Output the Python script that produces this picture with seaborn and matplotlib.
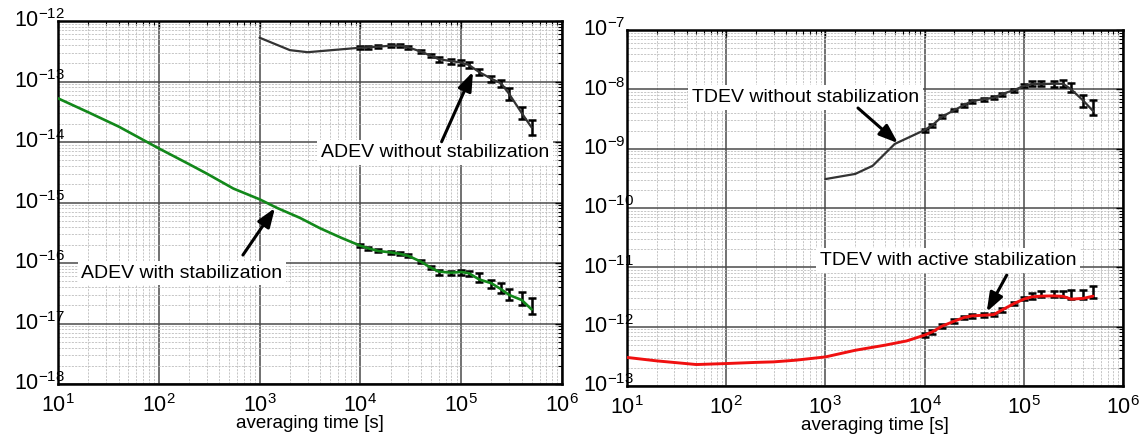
import numpy as np
import matplotlib
matplotlib.use("Agg")
import matplotlib.pyplot as plt
import seaborn as sns
from matplotlib.ticker import FixedLocator, LogLocator, NullFormatter

# ---------------------------------------------------------------- data
# averaging times at which error bars were evaluated
tau_pts = [1e4, 1.2e4, 1.5e4, 2e4, 2.5e4, 3e4, 4e4, 5e4, 6e4, 8e4,
           1e5, 1.2e5, 1.5e5, 2e5, 2.5e5, 3e5, 4e5, 5e5]

# ADEV without stabilization
adev_free_tau_head = [1e3, 2e3, 3e3]
adev_free_head = [5.3e-13, 3.3e-13, 3.05e-13]
adev_free_line = [3.62e-13, 3.67e-13, 3.76e-13, 3.91e-13, 3.91e-13, 3.67e-13,
                  3.11e-13, 2.67e-13, 2.34e-13, 2.17e-13, 2.06e-13, 1.87e-13,
                  1.44e-13, 1.11e-13, 9.27e-14, 6.2e-14, 2.99e-14, 1.74e-14]
adev_free_pts = adev_free_line
adev_free_err = [0.025] * 8 + [0.04, 0.04, 0.04, 0.045, 0.05, 0.05, 0.05,
                               0.095, 0.095, 0.125]          # decades

# ADEV with stabilization
adev_stab_tau_head = [10, 20, 40, 100, 200, 300, 550, 1000, 1500, 2500, 4000, 6500]
adev_stab_head = [5.27e-14, 3.1e-14, 1.8e-14, 7.85e-15, 4.3e-15, 3.0e-15,
                  1.7e-15, 1.13e-15, 8.1e-16, 5.6e-16, 3.74e-16, 2.6e-16]
adev_stab_line = [1.93e-16, 1.75e-16, 1.58e-16, 1.50e-16, 1.41e-16, 1.31e-16,
                  1.05e-16, 8.37e-17, 7.2e-17, 6.92e-17, 7.1e-17, 6.76e-17,
                  5.38e-17, 4.62e-17, 3.67e-17, 2.96e-17, 2.44e-17, 1.71e-17]
adev_stab_pts = [1.93e-16, 1.75e-16, 1.58e-16, 1.50e-16, 1.41e-16, 1.31e-16,
                 1.05e-16, 8.37e-17, 6.97e-17, 6.83e-17, 6.97e-17, 6.76e-17,
                 5.76e-17, 4.46e-17, 3.86e-17, 2.99e-17, 2.57e-17, 1.95e-17]
adev_stab_err = [0.025] * 8 + [0.04, 0.04, 0.04, 0.04, 0.07, 0.07, 0.077,
                               0.088, 0.105, 0.13]

# TDEV without stabilization
tdev_free_tau_head = [1e3, 2e3, 3e3, 5e3]
tdev_free_head = [3.07e-10, 3.75e-10, 5.15e-10, 1.2e-9]
tdev_free_line = [2.06e-9, 2.5e-9, 3.45e-9, 4.48e-9, 5.43e-9, 6.35e-9,
                  6.86e-9, 7.22e-9, 8.3e-9, 9.72e-9, 1.14e-8, 1.23e-8,
                  1.23e-8, 1.24e-8, 1.24e-8, 1.0e-8, 6.4e-9, 4.3e-9]
tdev_free_pts = [2.06e-9, 2.5e-9, 3.45e-9, 4.48e-9, 5.43e-9, 6.35e-9,
                 6.86e-9, 7.22e-9, 8.3e-9, 9.72e-9, 1.14e-8, 1.23e-8,
                 1.23e-8, 1.24e-8, 1.24e-8, 1.07e-8, 6.4e-9, 4.93e-9]
tdev_free_err = [0.025] * 11 + [0.042, 0.042, 0.047, 0.062, 0.07, 0.098, 0.126]

# TDEV with active stabilization
tdev_stab_tau_head = [10, 20, 30, 50, 100, 200, 300, 500, 1000, 2000, 4000, 6600]
tdev_stab_head = [3.03e-13, 2.65e-13, 2.49e-13, 2.3e-13, 2.39e-13, 2.5e-13,
                  2.55e-13, 2.72e-13, 3.09e-13, 4.0e-13, 4.88e-13, 5.75e-13]
tdev_stab_line = [7.2e-13, 8.18e-13, 1.02e-12, 1.24e-12, 1.43e-12, 1.52e-12,
                  1.56e-12, 1.60e-12, 1.90e-12, 2.46e-12, 2.91e-12, 3.18e-12,
                  3.27e-12, 3.3e-12, 3.24e-12, 2.91e-12, 3.0e-12, 3.27e-12]
tdev_stab_pts = [7.2e-13, 8.18e-13, 1.02e-12, 1.24e-12, 1.43e-12, 1.52e-12,
                 1.56e-12, 1.60e-12, 1.90e-12, 2.46e-12, 3.0e-12, 3.3e-12,
                 3.55e-12, 3.55e-12, 3.55e-12, 3.55e-12, 3.55e-12, 3.9e-12]
tdev_stab_err = [0.03] * 11 + [0.045, 0.05, 0.05, 0.055, 0.076, 0.076, 0.1]

# annotation labels: (text x, text y), arrow start, arrow tip
left_labels = [
    ("ADEV with stabilization", (170, 5.75e-17), (684, 1.355e-16), (1422, 8.11e-16)),
    ("ADEV without stabilization", (5.5e4, 5.71e-15), (6.4e4, 1.01e-14), (1.31e5, 1.45e-13)),
]
right_labels = [
    ("TDEV without stabilization", (630, 6.18e-9), (2133, 4.84e-9), (5395, 1.24e-9)),
    ("TDEV with active stabilization", (1.72e4, 1.09e-11), (6.73e4, 7.38e-12), (4.23e4, 1.78e-12)),
]

xlabel_text = "averaging time [s]"

# ---------------------------------------------------------------- style
sns.set_theme(style="white")
plt.rcParams.update({
    "font.family": ["Liberation Sans", "DejaVu Sans"],
    "mathtext.fontset": "custom",
    "mathtext.rm": "Liberation Sans",
    "mathtext.it": "Liberation Sans:italic",
    "mathtext.bf": "Liberation Sans:bold",
    "axes.unicode_minus": False,
})

DARK = "#333333"
GREEN = "#12881a"
RED = "#f01010"


def decades(lo, hi):
    return 10.0 ** np.arange(int(round(np.log10(lo))), int(round(np.log10(hi))) + 1)


def style_axes(ax, xlim, ylim):
    ax.set_xscale("log")
    ax.set_yscale("log")
    ax.set_xlim(*xlim)
    ax.set_ylim(*ylim)
    ax.xaxis.set_major_locator(FixedLocator(decades(*xlim)))
    ax.yaxis.set_major_locator(FixedLocator(decades(*ylim)))
    for axis in (ax.xaxis, ax.yaxis):
        axis.set_minor_locator(LogLocator(base=10, subs=np.arange(2, 10), numticks=200))
        axis.set_minor_formatter(NullFormatter())
    ax.grid(which="minor", color="#bdbdbd", lw=0.6, ls=(0, (2.5, 1.5)))
    ax.grid(which="major", color="#4a4a4a", lw=1.1, ls="-")
    ax.set_axisbelow(True)
    for s in ax.spines.values():
        s.set_color("black")
        s.set_linewidth(1.8)
    ax.tick_params(which="both", direction="in", top=True, right=True,
                   colors="black")
    ax.tick_params(which="major", length=5, width=1)
    ax.tick_params(which="minor", length=3, width=0.8)
    ax.tick_params(axis="both", which="major", labelsize=15.5)
    ax.tick_params(axis="x", which="major", pad=7)
    ax.tick_params(axis="y", which="major", pad=32)
    plt.setp(ax.yaxis.get_majorticklabels(), ha="left", va="center")
    ax.set_xlabel(xlabel_text, fontsize=13.5, labelpad=-1, color="black")


def draw_series(ax, tau_head, head, line, pts, err, color, lw):
    tau_line = list(tau_head) + list(tau_pts)
    val_line = list(head) + list(line)
    pts_arr = np.asarray(pts)
    err_arr = np.asarray(err)
    lower = pts_arr * (1 - 10.0 ** (-err_arr))
    upper = pts_arr * (10.0 ** err_arr - 1)
    ax.errorbar(tau_pts, pts_arr, yerr=[lower, upper], fmt="none",
                ecolor="black", elinewidth=1.8, capsize=2.6, capthick=1.8,
                zorder=2.5)
    sns.lineplot(x=tau_line, y=val_line, ax=ax, color=color, lw=lw,
                 estimator=None, sort=False, zorder=3)


def draw_labels(ax, labels):
    for text, pos, start, tip in labels:
        ax.annotate("", xy=tip, xytext=start,
                    arrowprops=dict(arrowstyle="-|>,head_length=0.95,head_width=0.35",
                                    color="black", lw=2.2, shrinkA=0, shrinkB=0,
                                    mutation_scale=12),
                    zorder=5)
        ax.text(pos[0], pos[1], text, ha="center", va="baseline", fontsize=14,
                color="black", zorder=4,
                bbox=dict(boxstyle="square,pad=0.2", fc="white", ec="none"))


fig = plt.figure(figsize=(11.41, 4.34), dpi=100)
ax_l = fig.add_axes([0.0508, 0.1152, 0.4417, 0.8364])
ax_r = fig.add_axes([0.5495, 0.1106, 0.4347, 0.8203])

draw_series(ax_l, adev_free_tau_head, adev_free_head, adev_free_line,
            adev_free_pts, adev_free_err, DARK, 1.6)
draw_series(ax_l, adev_stab_tau_head, adev_stab_head, adev_stab_line,
            adev_stab_pts, adev_stab_err, GREEN, 1.9)
draw_series(ax_r, tdev_free_tau_head, tdev_free_head, tdev_free_line,
            tdev_free_pts, tdev_free_err, DARK, 1.6)
draw_series(ax_r, tdev_stab_tau_head, tdev_stab_head, tdev_stab_line,
            tdev_stab_pts, tdev_stab_err, RED, 2.1)

style_axes(ax_l, (10, 1e6), (1e-18, 1e-12))
style_axes(ax_r, (10, 1e6), (1e-13, 1e-7))

draw_labels(ax_l, left_labels)
draw_labels(ax_r, right_labels)

fig.savefig("out.png", dpi=100)
